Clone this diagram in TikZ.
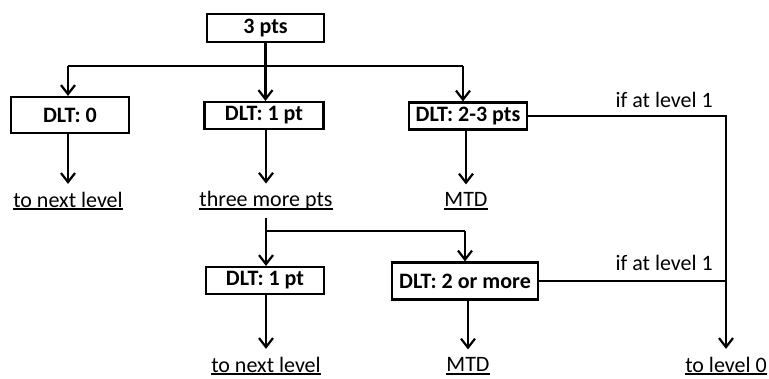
\documentclass[tikz,border=0pt]{standalone}
\usepackage{fontspec}
\setmainfont{Carlito}
\usetikzlibrary{arrows.meta}
\newcommand\myul[1]{\setbox0\hbox{#1}\rlap{\rule[-3pt]{\wd0}{1.8pt}}\box0}
\tikzset{
  box/.style={draw, line width=2.2pt, font=\fontsize{22}{26}\selectfont\bfseries, inner sep=0pt, minimum width=118pt, minimum height=27pt},
  txt/.style={font=\fontsize{22}{26}\selectfont, inner sep=0pt, outer ysep=8pt},
  lbl/.style={font=\fontsize{22}{26}\selectfont, inner sep=0pt, anchor=east},
  ln/.style={line width=2.2pt},
  arr/.style={ln, -{Straight Barb[length=9pt,width=14pt]}},
}
\begin{document}
\begin{tikzpicture}[x=1pt,y=-1pt]
\useasboundingbox (0,0) rectangle (769,378);
% nodes
\node[box, minimum width=117pt, minimum height=28pt] (top) at (265.5,28) {3 pts};
\node[box, minimum height=36pt] (b0) at (70,115) {DLT: 0};
\node[box, minimum width=119pt] (b1) at (264,115.5) {DLT: 1 pt};
\node[box] (b2) at (468,116) {DLT: 2-3 pts};
\node[txt] (t0) at (68,201) {\myul{to next level}};
\node[txt] (t1) at (266,201) {\myul{three more pts}};
\node[txt] (t2) at (466,201) {\myul{MTD}};
\node[box] (b3) at (265,280.5) {DLT: 1 pt};
\node[box, minimum width=146pt, minimum height=37pt] (b4) at (465,281) {DLT: 2 or more};
\node[txt] (t3) at (266,366) {\myul{to next level}};
\node[txt] (t4) at (468,366) {\myul{MTD}};
\node[txt] (t5) at (726,366) {\myul{to level 0}};
\node[lbl] (l1) at (713,100) {if at level 1};
\node[lbl] (l2) at (713,263) {if at level 1};
% junctions
\coordinate (hL) at (68,66);
\coordinate (hR) at (463,66);
\coordinate (j) at (266,231);
\coordinate (jR) at (465,231);
% connectors
\draw[ln] (hL) -- (hR);
\draw[arr] (top.south) -- (top.south |- b1.north);
\draw[arr] (hL) -- (hL |- b0.north);
\draw[arr] (hR) -- (hR |- b2.north);
\draw[arr] (b0.south -| t0) -- (t0.north);
\draw[arr] (b1.south -| t1) -- (t1.north);
\draw[arr] (b2.south -| t2) -- (t2.north);
\draw[arr] (b2.east) -| (t5.north);
\draw[ln] (b4.east) -- (b4.east -| t5);
\draw[arr] (t1.south) -- (t1.south |- b3.north);
\draw[ln] (j) -- (jR);
\draw[arr] (jR) -- (b4.north);
\draw[arr] (b3.south -| t3) -- (t3.north);
\draw[arr] (b4.south -| t4) -- (t4.north);
\end{tikzpicture}
\end{document}
